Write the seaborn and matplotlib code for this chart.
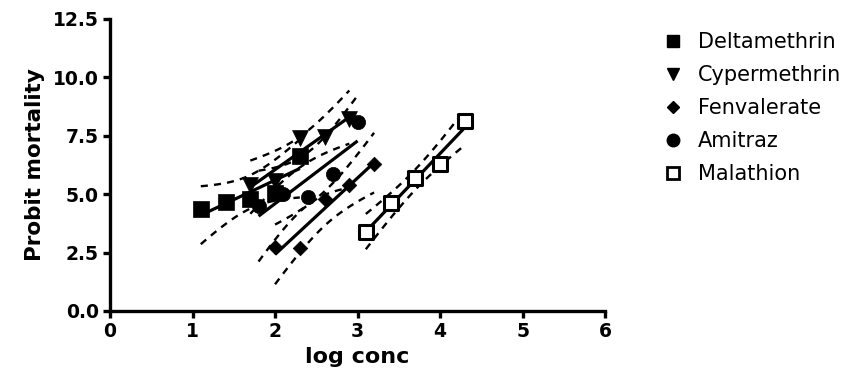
import numpy as np
import pandas as pd
import matplotlib
matplotlib.use("Agg")
import matplotlib.pyplot as plt
from matplotlib.lines import Line2D
import seaborn as sns

# ---- data ----
compounds = ["Deltamethrin", "Cypermethrin", "Fenvalerate", "Amitraz", "Malathion"]
delta_x = [1.1, 1.4, 1.7, 2.0, 2.3]
delta_y = [4.35, 4.65, 4.80, 5.05, 6.65]
cyper_x = [1.7, 2.0, 2.3, 2.6, 2.9]
cyper_y = [5.40, 5.55, 7.40, 7.45, 8.20]
fenv_x = [2.0, 2.3, 2.6, 2.9, 3.2]
fenv_y = [2.75, 2.68, 4.80, 5.40, 6.30]
amit_x = [1.8, 2.1, 2.4, 2.7, 3.0]
amit_y = [4.50, 5.00, 4.90, 5.85, 8.10]
mala_x = [3.1, 3.4, 3.7, 4.0, 4.3]
mala_y = [3.39, 4.62, 5.70, 6.30, 8.12]

xticks = [0, 1, 2, 3, 4, 5, 6]
yticks = [0.0, 2.5, 5.0, 7.5, 10.0, 12.5]
T95 = 3.182  # t(0.975, df=3) for 95% confidence bands

series = [
    ("Deltamethrin", delta_x, delta_y, "s", "black"),
    ("Cypermethrin", cyper_x, cyper_y, "v", "black"),
    ("Fenvalerate", fenv_x, fenv_y, "D", "black"),
    ("Amitraz", amit_x, amit_y, "o", "black"),
    ("Malathion", mala_x, mala_y, "s", "white"),
]
marker_sizes = {"s": 120, "v": 130, "D": 55, "o": 105}

sns.set_theme(style="ticks")
plt.rcParams["font.family"] = ["DejaVu Sans"]
plt.rcParams.update({"text.color": "black", "axes.labelcolor": "black",
                     "xtick.color": "black", "ytick.color": "black"})

fig = plt.figure(figsize=(8.61, 3.88), dpi=100)
ax = fig.add_axes([0.1278, 0.1985, 0.575, 0.7526])

for name, xs, ys, mk, face in series:
    x = np.asarray(xs, float)
    y = np.asarray(ys, float)
    b, a = np.polyfit(x, y, 1)
    xx = np.linspace(x.min(), x.max(), 60)
    yhat = a + b * xx
    resid = y - (a + b * x)
    s = np.sqrt(np.sum(resid ** 2) / (len(x) - 2))
    sxx = np.sum((x - x.mean()) ** 2)
    half = T95 * s * np.sqrt(1.0 / len(x) + (xx - x.mean()) ** 2 / sxx)
    ax.plot(xx, yhat, color="black", lw=2.3, solid_capstyle="butt", zorder=3)
    for band in (yhat + half, yhat - half):
        ax.plot(xx, band, color="black", lw=1.7, dashes=(3, 2.6), zorder=2)
    df = pd.DataFrame({"x": x, "y": y})
    if face == "white":
        sns.scatterplot(data=df, x="x", y="y", marker="s", s=105, color="white",
                        edgecolor="black", linewidth=2.2, ax=ax, zorder=4, legend=False)
    else:
        sns.scatterplot(data=df, x="x", y="y", marker=mk, s=marker_sizes[mk], color="black",
                        edgecolor="black", linewidth=0.5, ax=ax, zorder=4, legend=False)

ax.set_xlim(0, 6)
ax.set_ylim(0, 12.5)
ax.set_xticks(xticks)
ax.set_yticks(yticks)
ax.set_xticklabels([str(t) for t in xticks])
ax.set_yticklabels([f"{t:.1f}" for t in yticks])
sns.despine(ax=ax)
for sp in ("left", "bottom"):
    ax.spines[sp].set_linewidth(2.4)
    ax.spines[sp].set_color("black")
ax.tick_params(axis="both", direction="out", length=5, width=2.4, color="black",
               labelcolor="black", labelsize=13.5, pad=3)
for lab in ax.get_xticklabels() + ax.get_yticklabels():
    lab.set_fontweight("bold")
ax.set_xlabel("log conc", fontsize=16, fontweight="bold", labelpad=4, color="black")
ax.set_ylabel("Probit mortality", fontsize=15.5, fontweight="bold", labelpad=6, color="black")

handles = []
for name, xs, ys, mk, face in series:
    if face == "white":
        h = Line2D([], [], ls="none", marker="s", ms=9, mfc="white", mec="black", mew=2)
    else:
        ms = {"s": 9, "v": 9, "D": 6.5, "o": 9}[mk]
        h = Line2D([], [], ls="none", marker=mk, ms=ms, mfc="black", mec="black")
    handles.append(h)
leg = fig.legend(handles, compounds, loc="upper left", bbox_to_anchor=(0.745, 0.965),
                 frameon=False, fontsize=15, handletextpad=0.6, labelspacing=0.62,
                 handlelength=1.2)
for t in leg.get_texts():
    t.set_color("black")

fig.savefig("out.png", dpi=100)
